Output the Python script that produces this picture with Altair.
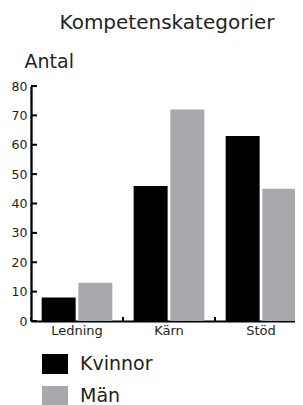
import altair as alt
import pandas as pd

categories = ["Ledning", "Kärn", "Stöd"]
series = ["Kvinnor", "Män"]
kvinnor = [8, 46, 63]
man = [13, 72, 45]
y_ticks = [0, 10, 20, 30, 40, 50, 60, 70, 80]

rows = []
for i, c in enumerate(categories):
    rows.append({"kat": c, "kon": series[0], "antal": kvinnor[i]})
    rows.append({"kat": c, "kon": series[1], "antal": man[i]})
df = pd.DataFrame(rows)
df_cat = pd.DataFrame({"kat": categories})
df_tick = pd.DataFrame({"v": y_ticks})

FONT = "DejaVu Sans"
TXT = "#231f20"
W, H = 264, 235

xscale = alt.Scale(domain=categories, range=[0, 276], paddingInner=0, paddingOuter=0)
yscale = alt.Scale(domain=[0, 80], nice=False, zero=True)

xaxis = alt.Axis(title=None, labelAngle=0, ticks=False, domainColor="black",
                 domainWidth=2, labelFont=FONT, labelFontSize=13, labelColor=TXT,
                 labelPadding=3)
yaxis = alt.Axis(title="Antal", values=y_ticks, ticks=False, grid=False,
                 labelOverlap=False,
                 domainColor="black", domainWidth=2.3, labelFont=FONT,
                 labelFontSize=12.5, labelColor=TXT, labelPadding=4,
                 titleAngle=0, titleAlign="left", titleBaseline="alphabetic",
                 titleX=-7, titleY=-19, titleFont=FONT, titleFontSize=19,
                 titleFontWeight="normal", titleColor=TXT)

bars = alt.Chart(df).mark_bar().encode(
    x=alt.X("kat:N", scale=xscale, sort=categories, axis=xaxis),
    xOffset=alt.XOffset("kon:N", sort=series,
                        scale=alt.Scale(paddingInner=0.074, paddingOuter=0.29)),
    y=alt.Y("antal:Q", scale=yscale, axis=yaxis),
    color=alt.Color("kon:N", sort=series,
                    scale=alt.Scale(domain=series, range=["#000000", "#a7a9ac"]),
                    legend=alt.Legend(title=None, orient="none", legendX=14, legendY=268,
                                      symbolType="M-1.3,-1H1.3V1H-1.3Z", symbolSize=400,
                                      symbolStrokeWidth=0, labelFont=FONT, labelFontSize=19,
                                      labelColor=TXT, labelOffset=15, rowPadding=12,
                                      padding=0)),
)

xticks = alt.Chart(df_cat).mark_rule(color="black", strokeWidth=2).encode(
    x=alt.X("kat:N", bandPosition=0, scale=xscale, sort=categories, axis=xaxis),
    y=alt.value(H),
    y2=alt.value(H - 4),
)

yticks = alt.Chart(df_tick).mark_rule(color="black", strokeWidth=2).encode(
    y=alt.Y("v:Q", scale=yscale, axis=yaxis),
    x=alt.value(0),
    x2=alt.value(6),
)

chart = alt.layer(bars, xticks, yticks).properties(
    width=W, height=H,
    title=alt.TitleParams("Kompetenskategorier", font=FONT, fontSize=20,
                          fontWeight="normal", color=TXT, anchor="middle", dx=4, offset=19),
    autosize=alt.AutoSizeParams(type="none"),
    padding={"left": 23, "top": 78, "right": 0, "bottom": 90},
).configure_view(stroke=None)

chart.save("out.html", embed_options={"renderer": "svg", "actions": False})
